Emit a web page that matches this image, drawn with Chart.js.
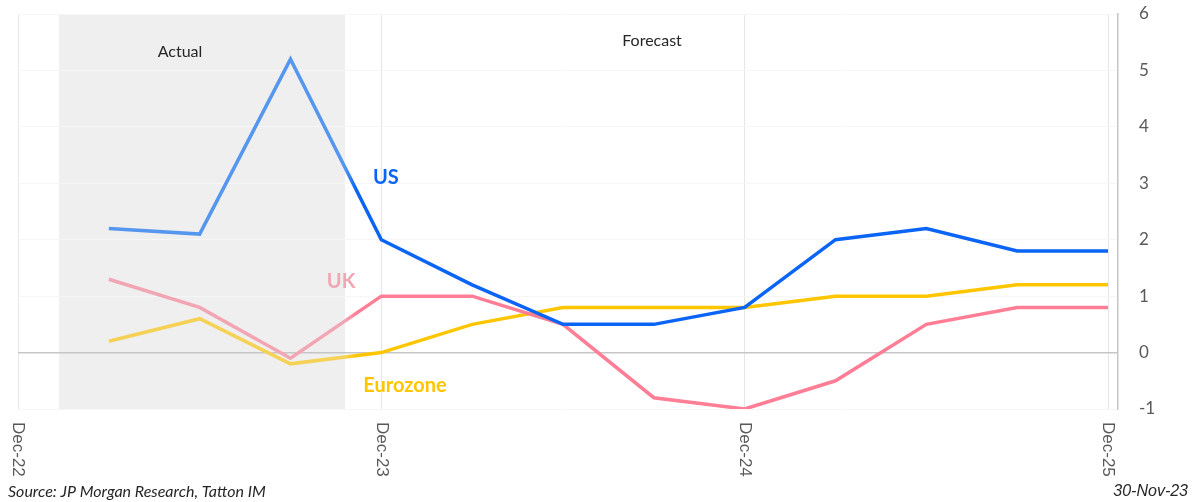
<!DOCTYPE html>
<html>
<head>
<meta charset="utf-8">
<script src="https://cdn.jsdelivr.net/npm/chart.js@4/dist/chart.umd.min.js"></script>
<style>
	body { margin: 0; background: #fff; }
	canvas { display: block; }
</style>
</head>
<body>
<canvas id="myChart" width="1195" height="502"></canvas>
<script>
// Месяцы от Dec-22 (0) до Dec-25 (36), точки поквартально
const months = [3, 6, 9, 12, 15, 18, 21, 24, 27, 30, 33, 36];
const usValues = [2.2, 2.1, 5.2, 2.0, 1.2, 0.5, 0.5, 0.8, 2.0, 2.2, 1.8, 1.8];
const ukValues = [1.3, 0.8, -0.1, 1.0, 1.0, 0.5, -0.8, -1.0, -0.5, 0.5, 0.8, 0.8];
const euroValues = [0.2, 0.6, -0.2, 0.0, 0.5, 0.8, 0.8, 0.8, 1.0, 1.0, 1.2, 1.2];
const tickMonths = [0, 12, 24, 36];
const tickLabels = ['Dec-22', 'Dec-23', 'Dec-24', 'Dec-25'];

const shadeFrom = 1.36, shadeTo = 10.8; // серая зона "Actual"
const fontName = 'Lato, "Liberation Sans", sans-serif';

// Цвет линии: светлый в зоне факта, насыщенный в прогнозе
function splitColor(light, dark) {
	return function (context) {
		const chart = context.chart;
		const area = chart.chartArea;
		if (!area) return dark;
		const edge = chart.scales.x.getPixelForValue(shadeTo);
		const f = (edge - area.left) / (area.right - area.left);
		const g = chart.ctx.createLinearGradient(area.left, 0, area.right, 0);
		g.addColorStop(0, light);
		g.addColorStop(f, light);
		g.addColorStop(Math.min(1, f + 0.01), dark);
		g.addColorStop(1, dark);
		return g;
	};
}

function toPoints(values) {
	return values.map((v, i) => ({ x: months[i], y: v }));
}

const shadePlugin = {
	id: 'shade',
	beforeDraw(chart) {
		const { ctx, chartArea, scales } = chart;
		const x1 = scales.x.getPixelForValue(shadeFrom);
		const x2 = scales.x.getPixelForValue(shadeTo);
		ctx.save();
		ctx.fillStyle = '#efefef';
		ctx.fillRect(x1, chartArea.top, x2 - x1, chartArea.bottom - chartArea.top);
		ctx.restore();
	}
};

const textPlugin = {
	id: 'texts',
	afterDraw(chart) {
		const { ctx, chartArea, scales } = chart;
		const xs = scales.x, ys = scales.y;
		ctx.save();

		// подписи оси X, повернутые по часовой
		ctx.fillStyle = '#595959';
		ctx.font = '17px "Liberation Sans", Arial, sans-serif';
		ctx.textAlign = 'left';
		ctx.textBaseline = 'middle';
		tickMonths.forEach((m, i) => {
			ctx.save();
			ctx.translate(xs.getPixelForValue(m), chartArea.bottom + 13);
			ctx.rotate(Math.PI / 2);
			ctx.fillText(tickLabels[i], 0, 0);
			ctx.restore();
		});

		ctx.textAlign = 'center';
		ctx.fillStyle = '#262626';
		ctx.font = '16px ' + fontName;
		ctx.fillText('Actual', xs.getPixelForValue(5.35), ys.getPixelForValue(5.33));
		ctx.fillText('Forecast', xs.getPixelForValue(20.94), ys.getPixelForValue(5.52));

		ctx.font = 'bold 20px ' + fontName;
		ctx.fillStyle = '#0a64f5';
		ctx.fillText('US', xs.getPixelForValue(12.15), ys.getPixelForValue(3.1));
		ctx.fillStyle = '#f2a5b3';
		ctx.fillText('UK', xs.getPixelForValue(10.67), ys.getPixelForValue(1.26));
		ctx.fillStyle = '#ffc600';
		ctx.fillText('Eurozone', xs.getPixelForValue(12.78), ys.getPixelForValue(-0.59));

		ctx.fillStyle = '#262626';
		ctx.font = 'italic 16px ' + fontName;
		ctx.textAlign = 'left';
		ctx.fillText('Source: JP Morgan Research, Tatton IM', 8, 492);
		ctx.textAlign = 'right';
		ctx.font = 'italic 16px "Liberation Sans", Arial, sans-serif';
		ctx.fillText('30-Nov-23', 1188, 492);
		ctx.restore();
	}
};

const ctx = document.getElementById('myChart').getContext('2d');

const chart = new Chart(ctx, {
	type: 'line',
	data: {
		datasets: [
			{
				label: 'US',
				data: toPoints(usValues),
				borderColor: splitColor('#5596ee', '#0a64f5'),
				borderWidth: 3.5
			},
			{
				label: 'UK',
				data: toPoints(ukValues),
				borderColor: splitColor('#f2a5b3', '#ff7e96'),
				borderWidth: 3.5
			},
			{
				label: 'Eurozone',
				data: toPoints(euroValues),
				borderColor: splitColor('#f5d255', '#ffc600'),
				borderWidth: 3.5
			}
		]
	},
	options: {
		responsive: false,
		animation: false,
		layout: { padding: { left: 18, top: 14, bottom: 93, right: 0 } },
		elements: {
			point: { radius: 0 },
			line: { tension: 0, borderCapStyle: 'butt', borderJoinStyle: 'miter' }
		},
		plugins: {
			legend: { display: false },
			tooltip: { enabled: false }
		},
		scales: {
			x: {
				type: 'linear',
				min: 0,
				max: 36.33,
				afterBuildTicks(scale) {
					scale.ticks = tickMonths.map(v => ({ value: v }));
				},
				ticks: { display: false },
				grid: { color: '#e6e6e6', drawTicks: false },
				border: { display: false }
			},
			y: {
				position: 'right',
				min: -1,
				max: 6,
				afterFit(scale) {
					scale.width = 77;
				},
				ticks: {
					stepSize: 1,
					padding: 0, // отступ через tickLength, иначе растет верхний отступ
					color: '#595959',
					font: { family: fontName, size: 17 }
				},
				grid: {
					drawTicks: true,
					tickLength: 21,
					tickColor: 'rgba(0,0,0,0)',
					color: c => (c.tick && c.tick.value === 0 ? '#c6c6c6' : '#f6f6f6'),
					lineWidth: c => (c.tick && c.tick.value === 0 ? 1.5 : 1)
				},
				border: { color: '#c6c6c6', width: 1.5 }
			}
		}
	},
	plugins: [shadePlugin, textPlugin]
});
</script>
</body>
</html>
